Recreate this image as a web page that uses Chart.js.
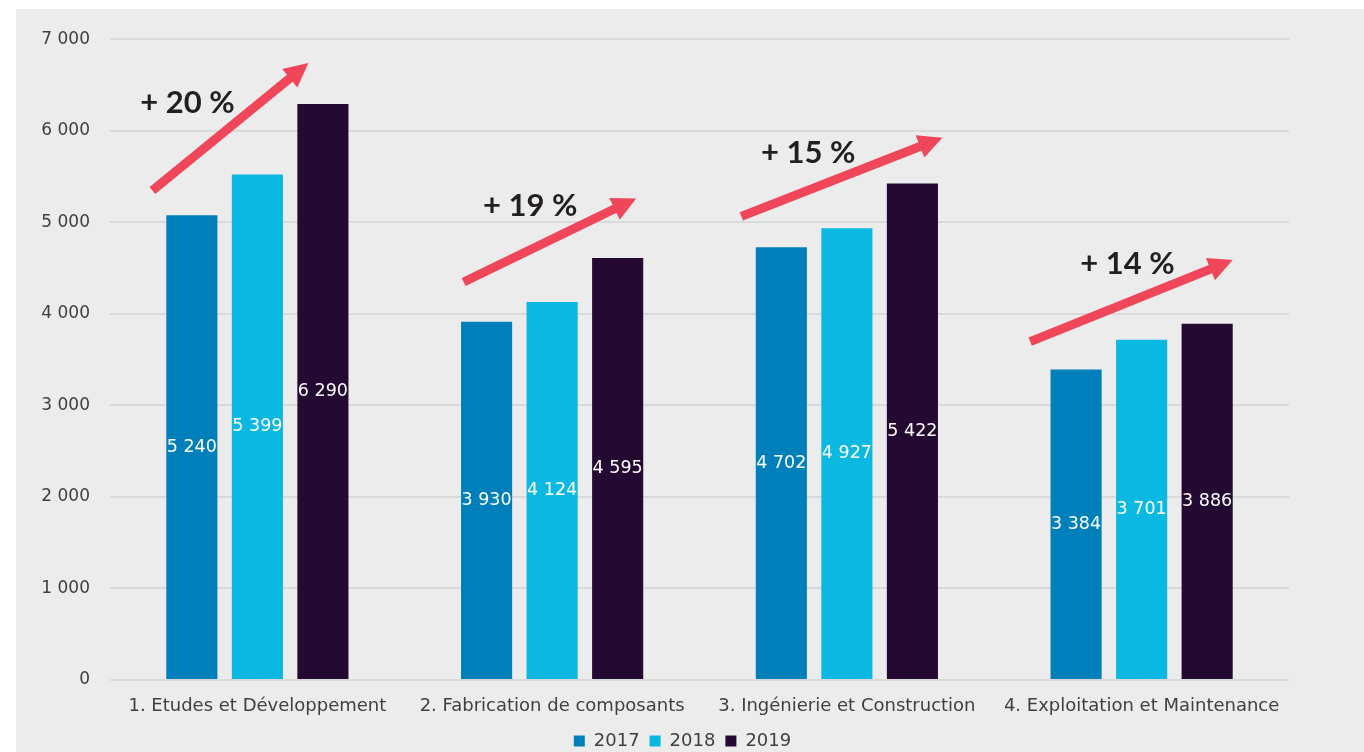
<!DOCTYPE html>
<html>
<head>
<meta charset="utf-8">
<script src="https://cdn.jsdelivr.net/npm/chart.js@4/dist/chart.umd.min.js"></script>
<style>
  html, body { margin: 0; padding: 0; background: #ffffff; }
  #wrap { position: absolute; left: 16px; top: 9px; width: 1348px; height: 743px; background: #ececec; }
</style>
</head>
<body>
<div id="wrap"><canvas id="chart"></canvas></div>
<script>
// categories + series
const categories = ["1. Etudes et Développement", "2. Fabrication de composants", "3. Ingénierie et Construction", "4. Exploitation et Maintenance"];
const years = ["2017", "2018", "2019"];
const colors = ["#0080bb", "#0bb8e2", "#240a33"];

// bar heights as drawn
const v2017 = [5076, 3913, 4728, 3391];
const v2018 = [5522, 4130, 4935, 3717];
const v2019 = [6293, 4609, 5424, 3891];

// printed labels inside bars
const lbl2017 = ["5 240", "3 930", "4 702", "3 384"];
const lbl2018 = ["5 399", "4 124", "4 927", "3 701"];
const lbl2019 = ["6 290", "4 595", "5 422", "3 886"];

// growth annotations: text, arrow from/to (category offset, value)
const growthText = ["+ 20 %", "+ 19 %", "+ 15 %", "+ 14 %"];
const textPos = [[-0.237, 6304], [-0.074, 5174], [-0.131, 5761], [-0.048, 4543]];
const arrowFrom = [[-0.356, 5348], [-0.30, 4348], [-0.358, 5065], [-0.378, 3696]];
const arrowTo = [[0.173, 6739], [0.285, 5261], [0.324, 5924], [0.309, 4587]];

const yTicks = [0, 1000, 2000, 3000, 4000, 5000, 6000, 7000];

const cv = document.getElementById("chart");
cv.width = 1348; cv.height = 743;

const FONT = "'DejaVu Sans'";
const fmt = n => String(n).replace(/\B(?=(\d{3})+(?!\d))/g, " ");

const labelsPlugin = {
  id: "barLabels",
  afterDatasetsDraw(chart){
    const ctx = chart.ctx;
    const all = [lbl2017, lbl2018, lbl2019];
    ctx.save();
    ctx.font = "17.5px " + FONT;
    ctx.fillStyle = "#ffffff";
    ctx.textAlign = "center";
    ctx.textBaseline = "middle";
    chart.data.datasets.forEach((ds, di)=>{
      chart.getDatasetMeta(di).data.forEach((bar, i)=>{
        ctx.fillText(all[di][i], bar.x, (bar.y + bar.base)/2);
      });
    });
    ctx.restore();
  }
};

const arrowPlugin = {
  id: "growthArrows",
  afterDraw(chart){
    const ctx = chart.ctx;
    const xs = chart.scales.x, ys = chart.scales.y;
    const step = xs.getPixelForValue(1) - xs.getPixelForValue(0);
    const px = (i, p)=> [xs.getPixelForValue(i) + p[0]*step, ys.getPixelForValue(p[1])];
    ctx.save();
    categories.forEach((c, i)=>{
      const a = px(i, arrowFrom[i]), b = px(i, arrowTo[i]);
      const ang = Math.atan2(b[1]-a[1], b[0]-a[0]);
      const head = 24;
      const baseX = b[0] - Math.cos(ang)*head, baseY = b[1] - Math.sin(ang)*head;
      ctx.strokeStyle = "#f0465a";
      ctx.fillStyle = "#f0465a";
      ctx.lineWidth = 9;
      ctx.beginPath();
      ctx.moveTo(a[0], a[1]);
      ctx.lineTo(baseX + Math.cos(ang)*2, baseY + Math.sin(ang)*2);
      ctx.stroke();
      ctx.beginPath();
      ctx.moveTo(b[0], b[1]);
      ctx.lineTo(baseX + Math.cos(ang+Math.PI/2)*12, baseY + Math.sin(ang+Math.PI/2)*12);
      ctx.lineTo(baseX + Math.cos(ang-Math.PI/2)*12, baseY + Math.sin(ang-Math.PI/2)*12);
      ctx.closePath();
      ctx.fill();
      const t = px(i, textPos[i]);
      ctx.font = "bold 31px Lato";
      ctx.fillStyle = "#231f20";
      ctx.textAlign = "center";
      ctx.textBaseline = "middle";
      ctx.fillText(growthText[i], t[0], t[1]);
    });
    ctx.restore();
  }
};

// fixed legend height, legend nudged right to sit under the plot like the original
const legendFit = {
  id: "legendFit",
  beforeInit(chart){
    const fit = chart.legend.fit;
    chart.legend.fit = function(){ fit.bind(chart.legend)(); this.height = 30; };
  },
  afterLayout(chart){
    chart.legend.left += 30;
    chart.legend.right += 30;
  }
};

new Chart(cv, {
  type: "bar",
  data: {
    labels: categories,
    datasets: [
      {label: years[0], data: v2017, backgroundColor: colors[0]},
      {label: years[1], data: v2018, backgroundColor: colors[1]},
      {label: years[2], data: v2019, backgroundColor: colors[2]}
    ]
  },
  options: {
    responsive: false,
    animation: false,
    layout: {padding: {top: 7, right: 75, left: 0, bottom: 0}},
    datasets: {bar: {categoryPercentage: 0.667, barPercentage: 0.78}},
    plugins: {
      legend: {
        position: "bottom",
        labels: {
          boxWidth: 11, boxHeight: 11, padding: 10,
          color: "#404040",
          font: {family: FONT, size: 18}
        }
      },
      tooltip: {enabled: false}
    },
    scales: {
      x: {
        afterFit(s){ s.height = 42; },
        grid: {display: false},
        border: {display: false},
        ticks: {color: "#404040", font: {family: FONT, size: 18}, padding: 8, maxRotation: 0}
      },
      y: {
        min: 0, max: 7000,
        afterFit(s){ s.width = 94; },
        afterBuildTicks(s){ s.ticks = yTicks.map(v=>({value: v})); },
        grid: {color: "#d9d9d9", lineWidth: 2, drawTicks: false},
        border: {display: false},
        ticks: {color: "#404040", font: {family: FONT, size: 17}, padding: 20, callback: v => fmt(v)}
      }
    }
  },
  plugins: [labelsPlugin, arrowPlugin, legendFit]
});
</script>
</body>
</html>
